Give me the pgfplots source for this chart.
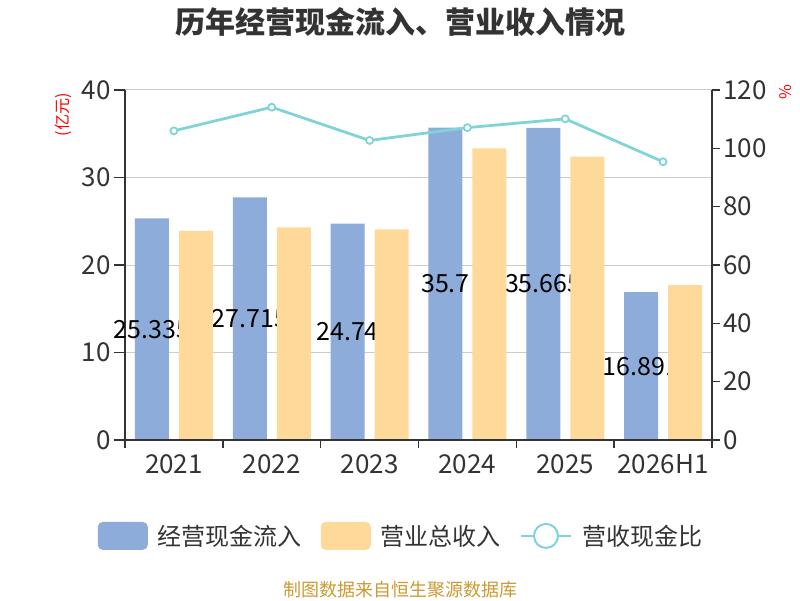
\documentclass[border=0pt]{standalone}
\usepackage{fontspec}
\setmainfont{Noto Sans CJK SC}
\usepackage{pgfplots}
\pgfplotsset{compat=1.18}
\definecolor{cBlue}{RGB}{142,172,218}
\definecolor{cOrange}{RGB}{255,217,154}
\definecolor{cTeal}{RGB}{128,212,216}
\definecolor{cAxis}{RGB}{51,51,51}
\definecolor{cGrid}{RGB}{204,204,204}
\definecolor{cText}{RGB}{51,51,51}
\definecolor{cFoot}{RGB}{204,153,51}
\pgfplotsset{
  barleg/.style={legend image code/.code={\fill[##1,/tikz/.cd, rounded corners=5pt] (0pt,-14pt) rectangle (50pt,14pt);}},
  base/.style={at={(0,0)}, anchor=south west, scale only axis, width=587pt, height=350pt,
    xmin=-0.5, xmax=5.5, clip=false,
    axis line style={-, draw=cAxis, line width=1.5pt},
    ticklabel style={font=\fontsize{26}{26}\selectfont, text=cText},
    /pgf/number format/assume math mode=true},
}
\begin{document}
\begin{tikzpicture}[x=1pt,y=1pt]
\path[use as bounding box] (-125,-160) rectangle (675,440);
\begin{axis}[base,
  ymin=0, ymax=40,
  ytick={0,10,20,30,40},
  xtick={0,...,5},
  xticklabels={2021,2022,2023,2024,2025,2026H1},
  xtick style={draw=none},
  extra x ticks={-0.5,0.5,...,5.5},
  extra x tick labels={},
  extra x tick style={xtick style={draw=cAxis, line width=1.5pt}, major tick length=8pt},
  axis x line*=bottom, axis y line*=left,
  tick align=outside,
  major tick length=11pt,
  ytick style={draw=cAxis, line width=1.5pt},
  ymajorgrids, grid style={draw=cGrid, line width=1pt},
  legend columns=3,
  legend style={at={(axis description cs:0.4685,-0.274)}, anchor=center, draw=none, fill=none,
    font=\fontsize{24}{24}\selectfont, text=cText,
    /tikz/every odd column/.append style={column sep=10pt},
    /tikz/every even column/.append style={column sep=19pt},
    nodes={inner sep=0pt}},
]
\addplot[ybar, bar width=34pt, bar shift=-22pt, fill=cBlue, draw=none, barleg]
  coordinates {(0,25.335)(1,27.715)(2,24.74)(3,35.7)(4,35.665)(5,16.891)};
\addlegendentry{经营现金流入}
\addplot[forget plot, draw=none, mark=none, nodes near coords, point meta=explicit symbolic,
  every node near coord/.append style={anchor=center, xshift=-22pt, yshift=0pt, font=\fontsize{25}{25}\selectfont, text=black}]
  coordinates {(0,12.6675)[25.335] (1,13.8575)[27.715] (2,12.37)[24.74] (3,17.85)[35.7] (4,17.8325)[35.665] (5,8.4455)[16.891]};
\addlegendimage{ybar, fill=cOrange, draw=none, barleg}
\addlegendentry{营业总收入}
\addlegendimage{legend image code/.code={\draw[cTeal, line width=2.5pt] (0pt,0pt)--(50pt,0pt); \draw[cTeal, line width=2pt, fill=white] (25pt,0pt) circle (12pt);}}
\addlegendentry{营收现金比}
\end{axis}
\begin{axis}[base,
  ymin=0, ymax=40,
  axis y line=none, axis x line*=bottom,
  xtick=\empty, ytick=\empty, axis on top,
]
\addplot[ybar, bar width=34pt, bar shift=22pt, fill=cOrange, draw=none]
  coordinates {(0,23.9)(1,24.3)(2,24.08)(3,33.33)(4,32.38)(5,17.71)};
\end{axis}
\begin{axis}[base,
  ymin=0, ymax=120,
  ytick={0,20,...,120},
  axis y line*=right, axis x line=none,
  tick align=outside, major tick length=8pt,
  ytick style={draw=cAxis, line width=1.5pt},
]
\addplot[cTeal, line width=2.8pt, mark=*, mark size=3.5pt, mark options={fill=white, draw=cTeal, line width=1.8pt}]
  coordinates {(0,106.0)(1,114.1)(2,102.7)(3,107.1)(4,110.1)(5,95.4)};
\end{axis}
\node[font=\fontsize{30}{30}\selectfont\bfseries, text=cText] at (275,418) {历年经营现金流入、营业收入情况};
\node[font=\fontsize{16}{16}\selectfont, text=red, rotate=90] at (-62,325) {(亿元)};
\node[font=\fontsize{16}{16}\selectfont, text=red, rotate=90] at (661,348) {\%};
\node[font=\fontsize{18}{18}\selectfont, text=cFoot] at (275,-150) {制图数据来自恒生聚源数据库};
\end{tikzpicture}
\end{document}
